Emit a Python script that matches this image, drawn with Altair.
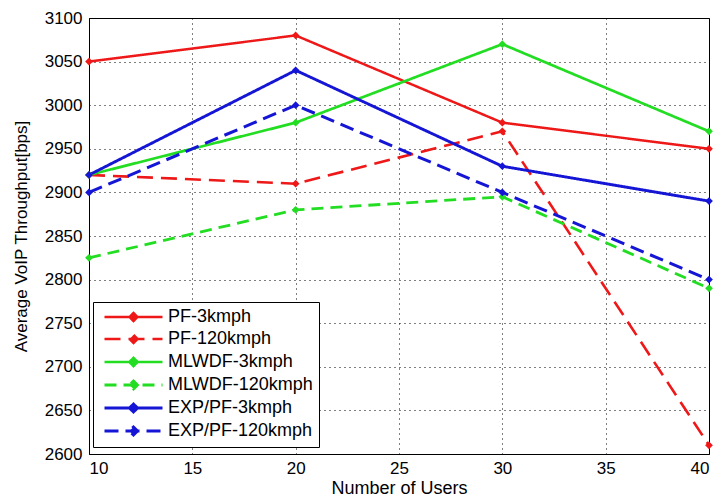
import altair as alt
import pandas as pd

users = [10, 20, 30, 40]
series_names = ["PF-3kmph", "PF-120kmph", "MLWDF-3kmph", "MLWDF-120kmph",
                "EXP/PF-3kmph", "EXP/PF-120kmph"]
pf_3 = [3050, 3080, 2980, 2950]
pf_120 = [2920, 2910, 2970, 2610]
mlwdf_3 = [2920, 2980, 3070, 2970]
mlwdf_120 = [2825, 2880, 2895, 2790]
exp_3 = [2920, 3040, 2930, 2890]
exp_120 = [2900, 3000, 2900, 2800]
x_ticks = [10, 15, 20, 25, 30, 35, 40]
y_ticks = [2600, 2650, 2700, 2750, 2800, 2850, 2900, 2950, 3000, 3050, 3100]

all_series = [pf_3, pf_120, mlwdf_3, mlwdf_120, exp_3, exp_120]
rows = []
for name, vals in zip(series_names, all_series):
    for u, v in zip(users, vals):
        rows.append({"users": u, "throughput": v, "series": name})
df = pd.DataFrame(rows)

colors = ["#ee1818", "#ee1818", "#22dd22", "#22dd22", "#1515d5", "#1515d5"]
dashes = [[1, 0], [16, 8], [1, 0], [12, 7], [1, 0], [14, 7]]
widths = [2.5, 3, 1.5, 2.2, 2, 2]

FONT = "Liberation Sans"
LEG_PATH = "M-0.7,0H10.9M5.1,-0.8L5.9,0L5.1,0.8L4.3,0Z"

legend = alt.Legend(
    orient="none", legendX=4, legendY=284, title=None, direction="vertical",
    symbolType=LEG_PATH, symbolSize=100, symbolStrokeWidth=2, labelOffset=51,
    labelFont=FONT, labelFontSize=18, labelColor="black", padding=6, rowPadding=3,
    strokeColor="black", fillColor="white", cornerRadius=0, symbolOpacity=1,
)

color_enc = alt.Color("series:N", scale=alt.Scale(domain=series_names, range=colors),
                      legend=legend, sort=series_names)
x_enc = alt.X("users:Q", scale=alt.Scale(domain=[10, 40], nice=False),
              axis=alt.Axis(values=x_ticks, title="Number of Users", titleFontSize=18,
                            titlePadding=3, labelPadding=6, format="d"))
y_enc = alt.Y("throughput:Q", scale=alt.Scale(domain=[2600, 3100], nice=False),
              axis=alt.Axis(values=y_ticks, title="Average VoIP Throughput[bps]",
                            titleFontSize=17, titlePadding=14, labelPadding=7, format="d"))

base = alt.Chart(df)
lines = base.mark_line().encode(
    x=x_enc, y=y_enc, color=color_enc,
    strokeDash=alt.StrokeDash("series:N", scale=alt.Scale(domain=series_names, range=dashes),
                              legend=legend, sort=series_names),
    strokeWidth=alt.StrokeWidth("series:N", scale=alt.Scale(domain=series_names, range=widths),
                                legend=None),
)
points = base.mark_point(shape="diamond", filled=True, size=60, opacity=1).encode(
    x="users:Q", y="throughput:Q", color=color_enc,
)

chart = alt.layer(lines, points).properties(
    width=620, height=436,
    autosize=alt.AutoSizeParams(type="none"),
    padding={"left": 89, "top": 18, "right": 6, "bottom": 46},
    background="white",
).configure_view(stroke="black", strokeWidth=1).configure_axis(
    labelFont=FONT, titleFont=FONT, labelFontSize=17, labelColor="black",
    titleColor="black", titleFontWeight="normal", grid=True, gridColor="black",
    gridDash=[1, 4], gridOpacity=1, gridWidth=1, domain=False, ticks=False,
)

chart.save("out.html", embed_options={"renderer": "svg", "actions": False})
